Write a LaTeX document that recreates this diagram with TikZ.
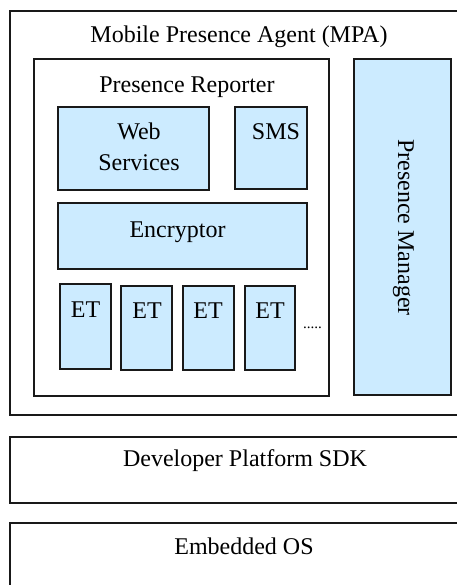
\documentclass[tikz,border=0pt]{standalone}
\usepackage{fontspec}
\setmainfont{Liberation Serif}
\definecolor{boxblue}{RGB}{204,235,255}
\begin{document}
\begin{tikzpicture}[x=1pt,y=-1pt,
  frame/.style={draw=black!90, line width=1.3pt, inner sep=0pt, outer sep=0pt, anchor=north west},
  blue/.style={frame, fill=boxblue},
  lbl/.style={inner sep=0pt, outer sep=0pt, anchor=base, font=\fontsize{24}{28}\selectfont}]
\useasboundingbox (0,0) rectangle (456,585);
% outer layers
\node[frame, minimum width=470pt, minimum height=404pt] (mpa) at (10,11) {};
\node[frame, minimum width=470pt, minimum height=66pt] (sdk) at (10,437) {};
\node[frame, minimum width=470pt, minimum height=80pt] (os) at (10,523) {};
% presence reporter
\node[frame, minimum width=295pt, minimum height=337pt] (rep) at (34,59) {};
\node[blue, minimum width=151pt, minimum height=83pt] (web) at (58,107) {};
\node[blue, minimum width=72pt, minimum height=82pt] (sms) at (235,107) {};
\node[blue, minimum width=249pt, minimum height=66pt] (enc) at (58,203) {};
\node[blue, minimum width=51pt, minimum height=85pt] (et1) at (60,284) {};
\node[blue, minimum width=51pt, minimum height=84pt] (et2) at (121,286) {};
\node[blue, minimum width=51pt, minimum height=84pt] (et3) at (183,286) {};
\node[blue, minimum width=50pt, minimum height=84pt] (et4) at (245,286) {};
% presence manager
\node[blue, minimum width=97pt, minimum height=336pt] (pm) at (354,59) {};
% labels
\node[lbl] (tmpa) at (239,43) {Mobile Presence Agent (MPA)};
\node[lbl] (trep) at (187,93) {Presence Reporter};
\node[lbl] (tweb1) at (139,140) {Web};
\node[lbl] (tweb2) at (139,171) {Services};
\node[lbl] (tsms) at (276,140) {SMS};
\node[lbl] (tenc) at (177.5,237) {Encryptor};
\node[lbl] (tet1) at (85.5,317) {ET};
\node[lbl] (tet2) at (147,318) {ET};
\node[lbl] (tet3) at (208,318) {ET};
\node[lbl] (tet4) at (270,318) {ET};
\node[lbl, font=\fontsize{15}{18}\selectfont] (tdots) at (312.5,328) {.....};
\node[lbl, rotate=-90] (tpm) at (398,227.5) {Presence Manager};
\node[lbl] (tsdk) at (245,466) {Developer Platform SDK};
\node[lbl] (tos) at (244,554) {Embedded OS};
\end{tikzpicture}
\end{document}
